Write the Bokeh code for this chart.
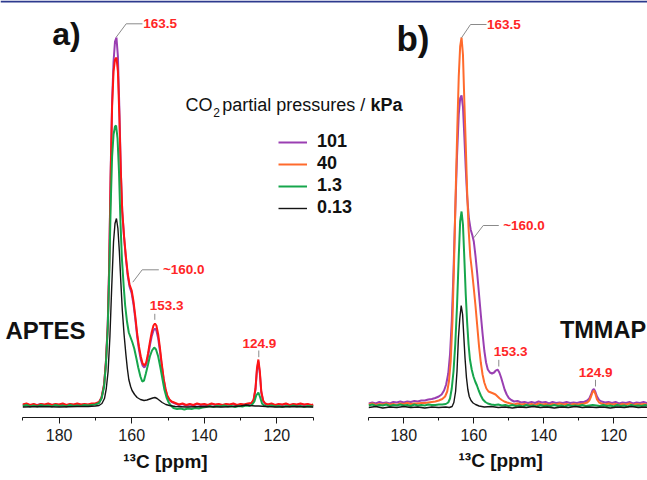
from bokeh.plotting import figure
from bokeh.models import Range1d, FixedTicker, Label, Legend, LegendItem, Span, Title
from bokeh.layouts import row
from bokeh.embed import file_html
from bokeh.resources import INLINE

# ---------------- data (13C shift in ppm, intensity in arbitrary units) ----------------
# Panel a) APTES
a_ppm_101 = [190, 189, 188, 187, 186, 185, 184, 183, 182, 181, 180, 179, 178, 177, 176, 175, 174, 173, 172, 171, 170, 169,
             168.3, 167.6, 167.1, 166.6, 166.2, 165.8, 165.4, 165.0, 164.6, 164.2, 163.8, 163.4, 163.0, 162.6, 162.1, 161.6,
             161.1, 160.6, 160.0, 159.5, 159.0, 158.5, 158.0, 157.5, 157.0, 156.5, 156.0, 155.5, 155.0, 154.5, 154.0, 153.6,
             153.2, 152.7, 152.2, 151.7, 151.2, 150.7, 150.2, 149.6, 149.0, 148, 147, 146, 145, 144, 143, 142, 141, 140, 139,
             138, 137, 136, 135, 134, 133, 132, 131, 130, 129, 128, 127, 126.4, 125.9, 125.5, 125.1, 124.7, 124.3, 123.8,
             123.2, 122.5, 121.5, 120.5, 119.5, 118.5, 117.5, 116.5, 115.5, 114.5, 113.5, 112.5, 111.5, 110.5, 110]
a_int_101 = [1.5, 2.5, 1.0, 2.0, 1.5, 2.5, 1.0, 2.5, 1.5, 2.0, 1.5, 2.5, 1.0, 2.0, 1.5, 2.5, 1.5, 2.0, 1.5, 2.5, 2.5, 4.0,
             9, 22, 45, 82, 142, 235, 305, 345, 365, 369, 350, 298, 236, 195, 169, 148,
             131, 120, 113, 102, 87, 70, 57, 47, 41, 39, 42, 50, 61, 70, 76, 78,
             76, 68, 55, 40, 27, 17, 10, 6.5, 4.5, 3.0, 1.5, 2.5, 1.0, 2.0, 1.0, 2.5, 1.5, 2.0, 1.0,
             2.5, 1.5, 2.0, 1.0, 2.0, 1.5, 2.5, 1.0, 2.0, 1.5, 2.5, 3.0, 6.5, 17, 36, 45, 33, 14, 5.5,
             2.5, 1.5, 2.5, 1.0, 2.0, 1.5, 2.5, 1.0, 2.0, 1.5, 2.5, 1.5, 2.0, 1.0, 1.5]

a_ppm_40 = a_ppm_101
a_int_40 = [2.0, 3.0, 1.5, 2.5, 1.0, 2.5, 2.0, 3.0, 1.5, 2.5, 2.0, 3.0, 1.5, 2.5, 2.0, 3.0, 2.0, 2.5, 2.0, 3.0, 3.0, 4.5,
            9, 22, 45, 80, 140, 230, 300, 335, 347, 349, 335, 290, 235, 195, 170, 150,
            133, 122, 116, 105, 90, 73, 60, 50, 43, 41, 44, 53, 64, 74, 81, 83,
            81, 72, 58, 42, 28, 18, 11, 7, 5, 3.5, 2.0, 3.0, 1.5, 2.5, 1.5, 3.0, 2.0, 2.5, 1.5,
            3.0, 2.0, 2.5, 1.5, 2.5, 2.0, 3.0, 1.5, 2.5, 2.0, 3.0, 3.5, 7, 18, 38, 47, 35, 15, 6,
            3.0, 2.0, 3.0, 1.5, 2.5, 2.0, 3.0, 1.5, 2.5, 2.0, 3.0, 2.0, 2.5, 1.5, 2.0]

a_ppm_1_3 = [190, 189, 188, 187, 186, 185, 184, 183, 182, 181, 180, 179, 178, 177, 176, 175, 174, 173, 172, 171, 170, 169,
             168.3, 167.6, 167.1, 166.6, 166.2, 165.8, 165.4, 165.0, 164.6, 164.3, 163.9, 163.5, 163.1, 162.7, 162.2, 161.8,
             161.3, 160.8, 160.3, 159.8, 159.3, 158.7, 158.2, 157.6, 157.1, 156.6, 156.1, 155.5, 155.0, 154.4, 153.8, 153.3,
             152.7, 152.1, 151.5, 151.0, 150.4, 149.8, 149.2, 148.5, 147.5, 146.5, 145.5, 144.5, 143.5, 142.5, 141.5, 140.5,
             139.5, 138.5, 137.5, 136.5, 135.5, 134.5, 133.5, 132.5, 131.5, 130.5, 129.5, 128.5, 127.5, 126.8, 126.2, 125.7,
             125.1, 124.6, 124.1, 123.5, 122.5, 121.5, 120.5, 119.5, 118.5, 117.5, 116.5, 115.5, 114.5, 113.5, 112.5, 111.5, 110]
a_int_1_3 = [0.5, 1.5, 0.0, 1.0, 0.0, 1.5, 0.5, 1.0, 0.0, 1.5, 0.5, 1.0, 0.0, 1.5, 0.5, 1.0, 0.5, 1.5, 1.0, 1.5, 2.0, 3.5,
             8, 20, 42, 78, 130, 200, 250, 272, 280, 281, 268, 235, 185, 148, 120, 101,
             85, 74, 69, 64, 58, 48, 39, 30, 25, 26, 33, 42, 50, 56, 59, 57,
             50, 39, 27, 17, 9, 4, 1, -1.5, -2.5, -2.0, -3.0, -2.0, -2.5, -1.5, -2.0, -1.0,
             -0.5, 0.5, -0.5, 0.5, 0.0, 1.0, 0.0, 0.5, -0.5, 0.5, 0.0, 1.0, 0.5, 2, 5, 11,
             14, 9, 3, 1, 0.0, 1.0, 0.0, 0.5, -0.5, 0.5, 0.0, 1.0, 0.0, 0.5, -0.5, 0.5, 0.0]

a_ppm_0_13 = [190, 185, 180, 175, 172, 170, 169, 168.2, 167.5, 167.0, 166.5, 166.0, 165.5, 165.0, 164.6, 164.2, 163.8,
              163.4, 163.0, 162.6, 162.1, 161.6, 161.2, 160.8, 160.3, 159.9, 159.2, 158.5, 157.6, 156.6, 155.8, 155.0,
              154.2, 153.6, 153.0, 152.3, 151.6, 150.6, 149.6, 148, 145, 140, 135, 132, 130, 128.5, 127.5, 126, 125,
              123, 120, 115, 110]
a_int_0_13 = [-0.5, 0.0, -0.5, 0.0, 0.0, 0.5, 1.0, 3, 8, 18, 35, 70, 120, 165, 183, 188, 178,
              155, 125, 97, 72, 52, 38, 27, 20, 16, 12, 9, 7, 6, 6.5, 7.5,
              8.5, 9, 8, 6, 4, 2, 1, 0.0, -0.5, 0.0, -0.5, 0.0, 0.5, 1.5, 1.0, 0.5, 0.5,
              0.0, -0.5, 0.0, -0.5]

# Panel b) TMMAP
b_ppm_101 = [190, 189, 188, 187, 186, 185, 184, 183, 182, 181, 180, 179, 178, 177, 176, 175, 174, 173, 172, 171, 170,
             169.2, 168.5, 167.9, 167.3, 166.8, 166.3, 165.8, 165.3, 164.8, 164.3, 163.9, 163.5, 163.1, 162.7, 162.3,
             161.9, 161.4, 160.9, 160.4, 160.0, 159.5, 159.0, 158.5, 158.0, 157.5, 157.0, 156.5, 156.0, 155.4, 154.8,
             154.2, 153.7, 153.2, 152.7, 152.2, 151.7, 151.2, 150.6, 150.0, 149.3, 148.5, 147.5, 146.5, 145.5, 144.5,
             143.5, 142.5, 141.5, 140.5, 139.5, 138.5, 137.5, 136.5, 135.5, 134.5, 133.5, 132.5, 131.5, 130.5, 129.5,
             128.5, 127.6, 127.0, 126.5, 126.1, 125.7, 125.3, 124.8, 124.2, 123.5, 122.5, 121.5, 120.5, 119.5, 118.5,
             117.5, 116.5, 115.5, 114.5, 113.5, 112.5, 111.5, 110.5, 110]
b_int_101 = [3, 4, 3, 4.5, 3.5, 4, 3, 4.5, 4, 5, 4, 5, 4.5, 5.5, 5, 6, 6, 7, 7.5, 8.5, 10,
             12, 16, 22, 33, 52, 85, 135, 195, 250, 292, 308, 311, 300, 270, 238,
             210, 188, 177, 171, 165, 150, 132, 112, 92, 73, 56, 44, 37, 34, 33,
             34, 36, 37, 34, 29, 23, 17, 12, 8.5, 6.5, 5, 5.5, 4, 4.5, 3.5,
             4.5, 3.5, 5, 4, 4.5, 3, 4.5, 3.5, 4, 3.5, 4.5, 3.5, 4, 3.5, 4.5,
             4.5, 6, 8, 12, 16, 17.5, 15, 10, 6.5, 5, 4, 4.5, 3.5, 4.5, 3,
             4, 3.5, 4.5, 3, 4, 3.5, 4.5, 3.5, 4]

b_ppm_40 = [190, 189, 188, 187, 186, 185, 184, 183, 182, 181, 180, 179, 178, 177, 176, 175, 174, 173, 172, 171, 170, 169,
            168.2, 167.6, 167.1, 166.6, 166.1, 165.6, 165.1, 164.7, 164.3, 163.9, 163.5, 163.1, 162.7, 162.3, 161.9,
            161.5, 161.0, 160.5, 160.0, 159.5, 159.0, 158.5, 158.0, 157.5, 157.0, 156.4, 155.8, 155.1, 154.4, 153.8,
            153.2, 152.6, 152.0, 151.3, 150.5, 149.5, 148.5, 147.5, 146.5, 145.5, 144.5, 143.5, 142.5, 141.5, 140.5,
            139.5, 138.5, 137.5, 136.5, 135.5, 134.5, 133.5, 132.5, 131.5, 130.5, 129.5, 128.5, 127.6, 127.0, 126.5,
            126.1, 125.7, 125.3, 124.8, 124.2, 123.5, 122.5, 121.5, 120.5, 119.5, 118.5, 117.5, 116.5, 115.5, 114.5,
            113.5, 112.5, 111.5, 110.5, 110]
b_int_40 = [2, 3, 1.5, 2.5, 2, 3, 2, 2.5, 1.5, 3, 2.5, 3.5, 2.5, 3, 3, 3.5, 3.5, 4, 4.5, 5, 6, 7.5,
            10, 15, 25, 45, 85, 150, 225, 280, 330, 360, 369, 352, 305, 262, 215,
            178, 150, 135, 118, 100, 80, 60, 44, 32, 24, 18, 15, 14, 13, 12,
            10, 8, 6.5, 5, 4, 3, 2, 3, 2, 2.5, 1.5, 2.5, 1.5, 3, 2,
            2.5, 1.5, 2.5, 2, 3, 2, 2.5, 1.5, 2.5, 2, 2.5, 3, 4, 6, 10,
            14, 16, 13, 7, 4, 3, 2, 3, 2, 2.5, 1.5, 2.5, 2, 3, 1.5,
            2.5, 2, 2.5, 2, 2]

b_ppm_1_3 = [190, 189, 188, 187, 186, 185, 184, 183, 182, 181, 180, 179, 178, 177, 176, 175, 174, 173, 172, 171, 170, 169,
             168, 167.3, 166.8, 166.3, 165.8, 165.3, 164.8, 164.3, 163.9, 163.5, 163.1, 162.7, 162.3, 161.9, 161.5, 161.1,
             160.6, 160.1, 159.6, 159.1, 158.6, 158.0, 157.4, 156.7, 156, 155, 154, 153, 152, 151, 150, 149, 148, 147, 146,
             145, 144, 143, 142, 141, 140, 139, 138, 137, 136, 135, 134, 133, 132, 131, 130, 129, 128, 127, 126, 125, 124,
             123, 122, 121, 120, 119, 118, 117, 116, 115, 114, 113, 112, 111, 110]
b_int_1_3 = [1, 2, 0.5, 1.5, 1, 2, 0.5, 1.5, 1, 2, 1, 1.5, 0.5, 2, 1, 1.5, 1, 2, 1.5, 1.5, 2, 2,
             2.5, 4, 8, 18, 35, 62, 100, 150, 185, 195, 182, 148, 112, 84, 62, 47,
             37, 30, 25, 21, 16, 11, 7, 4.5, 3, 2, 1.5, 2, 1, 1.5, 0.5, 1.5, 0.5, 1, 0,
             1.5, 0.5, 1, 0, 1.5, 0.5, 1, 0.5, 1.5, 0.5, 1, 0, 1.5, 0.5, 1, 0.5, 1.5, 0.5, 1, 1.5, 1, 0.5,
             1.5, 0.5, 1, 0, 1.5, 0.5, 1, 0, 1.5, 0.5, 1, 0.5, 1.5, 0.5]

b_ppm_0_13 = [190, 188, 186, 184, 182, 180, 178, 176, 174, 172, 170, 168, 167, 166.2, 165.7, 165.2, 164.8, 164.4, 164.0,
              163.6, 163.2, 162.9, 162.5, 162.1, 161.7, 161.3, 160.8, 160.2, 159.5, 158.5, 157, 155, 153, 151, 149, 147,
              145, 143, 141, 139, 137, 135, 133, 131, 129, 127, 125, 123, 121, 119, 117, 115, 113, 111, 110]
b_int_0_13 = [-1, 0, -1.5, -0.5, -1, 0, -1, -0.5, -1.5, -0.5, -1, -0.5, -1, 0, 4, 15, 35, 68, 88,
              101, 92, 73, 48, 29, 17, 10, 6, 3.5, 2, 0.5, -0.5, 0, -1, -0.5, -1.5, -0.5,
              -1, 0, -1, -0.5, -1.5, -0.5, -1, 0, -1, -0.5, -1, -0.5, -1.5, -0.5, -1, 0, -1, -0.5, -1]

series_labels = ["101", "40", "1.3", "0.13"]
tick_major = [180, 160, 140, 120]
tick_minor = [190, 170, 150, 130, 110]

# ---------------- styling ----------------
FONT = "Liberation Sans"
C_PURPLE = "#9a3fb2"
C_RED = "#ff1414"
C_ORANGE = "#ff6a2c"
C_GREEN = "#16a64c"
C_BLACK = "#141414"
C_LABEL = "#ff2626"
C_LEAD = "#8a8a8a"
C_BLUE = "#2d3a8e"

PXA = 3.63   # px per ppm, panel a
PXB = 3.5    # px per ppm, panel b
XA0 = 22.3   # px position of 190 ppm in panel a
XB0 = 368.3  # px position of 190 ppm in panel b (its canvas spans the whole width)
W = 647
H = 480
BOTTOM = 63
AXIS_TITLE = "\u00b9\u00b3C [ppm]"

def make_fig(width, x0, pxppm, transparent):
    start = 190 + x0 / pxppm
    end = start - width / pxppm
    p = figure(width=width, height=H, x_range=Range1d(start, end), y_range=Range1d(-11, 406),
               output_backend="svg", toolbar_location=None, y_axis_location=None,
               min_border_left=0, min_border_right=0, min_border_top=0, min_border_bottom=BOTTOM)
    p.outline_line_color = None
    p.xgrid.visible = False
    p.ygrid.visible = False
    if transparent:
        p.background_fill_color = None
        p.border_fill_color = None
    ax = p.xaxis[0]
    ax.ticker = FixedTicker(ticks=tick_major, minor_ticks=tick_minor)
    ax.bounds = (110, 190)
    ax.axis_line_color = "#1a1a1a"
    ax.axis_line_width = 1
    ax.major_tick_in = 0
    ax.major_tick_out = 6
    ax.minor_tick_in = 0
    ax.minor_tick_out = 3
    ax.major_tick_line_color = "#1a1a1a"
    ax.minor_tick_line_color = "#1a1a1a"
    ax.major_label_text_font = FONT
    ax.major_label_text_font_size = "16px"
    ax.major_label_text_color = "#1a1a1a"
    ax.major_label_standoff = 5
    return p

pa = make_fig(330, XA0, PXA, False)
ax_a = pa.xaxis[0]
ax_a.axis_label = AXIS_TITLE
ax_a.axis_label_text_font = FONT
ax_a.axis_label_text_font_style = "bold"
ax_a.axis_label_text_font_size = "19px"
ax_a.axis_label_text_color = "#111111"
ax_a.axis_label_standoff = 7

# panel b: transparent canvas laid over the full width
pb = make_fig(W, XB0, PXB, True)
pb.margin = (0, 0, 0, -330)
pb.add_layout(Title(text=AXIS_TITLE, align="left", offset=458, standoff=9,
                    text_font=FONT, text_font_style="bold", text_font_size="19px",
                    text_color="#111111"), "below")
# thin blue rule along the top edge
pb.add_layout(Span(location=405.0, dimension="width", line_color=C_BLUE, line_width=2.2))

def label(p, x, y, text, size, color="#111111", bold=False, align="left"):
    p.add_layout(Label(x=x, y=y, text=text, text_font=FONT, text_font_size=size, text_color=color,
                       text_font_style="bold" if bold else "normal", text_align=align,
                       text_baseline="middle"))

def leader(p, xs, ys):
    p.line(xs, ys, line_color=C_LEAD, line_width=1)

# ---- panel a spectra
pa.line(a_ppm_101, a_int_101, line_color=C_PURPLE, line_width=2)
pa.line(a_ppm_40, a_int_40, line_color=C_RED, line_width=2)
pa.line(a_ppm_1_3, a_int_1_3, line_color=C_GREEN, line_width=2)
pa.line(a_ppm_0_13, a_int_0_13, line_color=C_BLACK, line_width=1.4)

# ---- panel b spectra
rb = []
rb.append(pb.line(b_ppm_101, b_int_101, line_color=C_PURPLE, line_width=2))
rb.append(pb.line(b_ppm_40, b_int_40, line_color=C_ORANGE, line_width=2))
rb.append(pb.line(b_ppm_1_3, b_int_1_3, line_color=C_GREEN, line_width=2))
rb.append(pb.line(b_ppm_0_13, b_int_0_13, line_color=C_BLACK, line_width=1.4))

# ---- panel a annotations
label(pa, 181.9, 372.5, "a)", "32px", bold=True)
label(pa, 194.8, 76.1, "APTES", "24px", bold=True)
leader(pa, [164.27, 161.52, 157.03], [369.3, 382.7, 382.7])
label(pa, 156.8, 382.6, "163.5", "13.5px", C_LABEL, True)
leader(pa, [159.70, 157.11, 152.53], [124.3, 136.7, 136.7])
label(pa, 151.4, 136.7, "~160.0", "13.5px", C_LABEL, True)
leader(pa, [153.64, 153.64], [86.7, 92.7])
label(pa, 150.4, 100.8, "153.3", "13.5px", C_LABEL, True, "center")
leader(pa, [124.99, 124.99], [49.3, 56])
label(pa, 124.85, 63.5, "124.9", "13.5px", C_LABEL, True, "center")

# ---- panel b annotations
label(pb, 182.1, 368.5, "b)", "35px", bold=True)
label(pb, 135.4, 76.1, "TMMAP", "23.5px", bold=True)
leader(pb, [163.51, 160.94, 156.37], [368.7, 382, 382])
label(pb, 156.2, 382, "163.5", "13.5px", C_LABEL, True)
leader(pb, [160.0, 157.31, 152.86], [168.7, 181, 181])
label(pb, 151.6, 181.2, "~160.0", "13.5px", C_LABEL, True)
leader(pb, [152.86, 152.86], [40, 46.7])
label(pb, 154.3, 54.8, "153.3", "13.5px", C_LABEL, True)
leader(pb, [125.23, 125.23], [20, 26.7])
label(pb, 130.0, 34.1, "124.9", "13.5px", C_LABEL, True)

# ---- legend
label(pb, 242.37, 301.8, "CO", "18px")
label(pb, 234.46, 293.8, "2", "12px")
label(pb, 231.9, 301.8, "partial pressures /", "18px")
label(pb, 189.5, 301.8, "kPa", "18px", bold=True)

legend = Legend(items=[LegendItem(label=s, renderers=[r]) for s, r in zip(series_labels, rb)],
                location=(278, 199), orientation="vertical", padding=0, margin=0,
                border_line_color=None, background_fill_alpha=0,
                glyph_width=29, glyph_height=20, label_height=20, label_standoff=10, spacing=1,
                label_text_font=FONT, label_text_font_style="bold", label_text_font_size="18px",
                label_text_color="#111111")
pb.add_layout(legend)

layout = row(pa, pb)
open("out.html", "w").write(file_html(layout, INLINE))
